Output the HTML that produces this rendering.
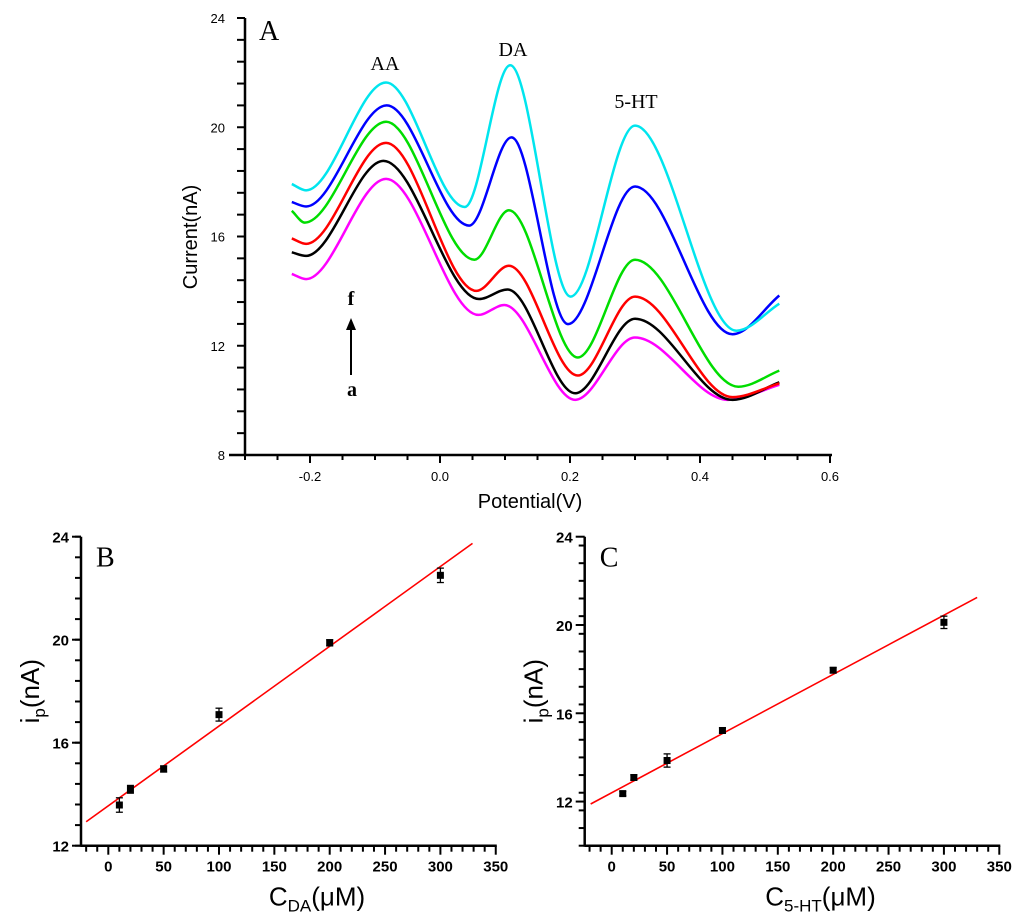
<!DOCTYPE html>
<html><head><meta charset="utf-8"><style>
body{margin:0;background:#fff}
svg{display:block;font-family:"Liberation Sans",sans-serif}
</style></head><body>
<svg id="fig" width="1024" height="922" viewBox="0 0 1024 922"></svg>
<script>
// ---------- Panel A data ----------
const seriesNames=['a','b','c','d','e','f'];
const seriesColors=['#ff00ff','#000000','#ff0000','#00dd00','#0000ff','#00e5ee'];
const seriesX=[
 [-0.228,-0.206,-0.083,0.059,0.099,0.208,0.300,0.443,0.522],
 [-0.228,-0.206,-0.087,0.060,0.104,0.208,0.300,0.450,0.522],
 [-0.228,-0.206,-0.083,0.056,0.106,0.212,0.300,0.450,0.522],
 [-0.228,-0.208,-0.083,0.053,0.106,0.212,0.300,0.459,0.522],
 [-0.228,-0.206,-0.082,0.045,0.110,0.197,0.300,0.450,0.522],
 [-0.228,-0.206,-0.083,0.038,0.108,0.201,0.300,0.456,0.522]
];
const seriesY=[
 [14.63,14.44,18.11,13.13,13.49,10.02,12.3,10.02,10.57],
 [15.42,15.29,18.77,13.71,14.06,10.26,12.99,10.02,10.66],
 [15.93,15.73,19.43,14.01,14.93,10.91,13.8,10.12,10.62],
 [16.94,16.51,20.2,15.15,16.96,11.57,15.15,10.5,11.09],
 [17.26,17.1,20.8,16.4,19.63,12.79,17.83,12.42,13.84],
 [17.92,17.69,21.64,17.08,22.27,13.8,20.06,12.55,13.54]
];
const aXTicks=[-0.2,0.0,0.2,0.4,0.6];
const aXLabels=['-0.2','0.0','0.2','0.4','0.6'];
const aYTicks=[8,12,16,20,24];
// ---------- Panel B data ----------
const bConc=[10,20,50,100,200,300];
const bCurrent=[13.58,14.19,14.98,17.09,19.88,22.5];
const bErr=[0.28,0.15,0.12,0.25,0.12,0.28];
const bFit=[[-20,12.93],[329,23.74]];
// ---------- Panel C data ----------
const cConc=[10,20,50,100,200,300];
const cCurrent=[12.36,13.09,13.86,15.22,17.95,20.12];
const cErr=[0.1,0.12,0.3,0.12,0.12,0.28];
const cFit=[[-19,11.89],[330,21.25]];
const bcXTicks=[0,50,100,150,200,250,300,350];
const bcYTicks=[12,16,20,24];

const svg=document.getElementById('fig');
const NS='http://www.w3.org/2000/svg';
function mk(tag,attrs,parent){const e=document.createElementNS(NS,tag);for(const k in attrs)e.setAttribute(k,attrs[k]);(parent||svg).appendChild(e);return e;}
function txt(s,attrs,parent){const e=mk('text',attrs,parent);e.textContent=s;return e;}

// ===== Panel A =====
const gA=mk('g',{});


const ax=v=>440+v*650, ay=v=>18+(24-v)*27.3125;
mk('line',{x1:229,y1:455,x2:832,y2:455,stroke:'#000','stroke-width':2.5},gA);
mk('line',{x1:245,y1:18,x2:245,y2:456,stroke:'#000','stroke-width':2.5},gA);
for(let k=-6;k<=12;k++){const v=k*0.05;const x=ax(v);const maj=(k%4===0);mk('line',{x1:x,y1:455,x2:x,y2:maj?463:460,stroke:'#000','stroke-width':2},gA);}
aXTicks.forEach((v,i)=>{const t=txt(aXLabels[i],{x:ax(v),y:481,'text-anchor':'middle','font-size':13},gA);});
for(let v=8;v<=24.01;v+=0.8){mk('line',{x1:237,y1:ay(v),x2:245,y2:ay(v),stroke:'#000','stroke-width':2},gA);}
aYTicks.forEach(v=>{const t=txt(String(v),{x:225,y:ay(v)+5,'text-anchor':'end','font-size':13},gA);});
const yt=txt('Current(nA)',{x:0,y:0,'font-size':20,'text-anchor':'middle',transform:'translate(197,237) rotate(-90)'},gA);

const xt=txt('Potential(V)',{x:530,y:508,'font-size':20,'text-anchor':'middle'},gA);

function monotone(pts){
 const n=pts.length,d=[],m=[];
 for(let i=0;i<n-1;i++)d.push((pts[i+1][1]-pts[i][1])/(pts[i+1][0]-pts[i][0]));
 for(let i=0;i<n;i++){
  if(i===0)m.push(d[0]);else if(i===n-1)m.push(d[n-2]);
  else if(d[i-1]*d[i]<=0)m.push(0);
  else m.push(2/(1/d[i-1]+1/d[i]));
 }
 let s='M'+pts[0][0]+','+pts[0][1];
 for(let i=0;i<n-1;i++){const h=(pts[i+1][0]-pts[i][0])/3;
  s+=' C'+(pts[i][0]+h)+','+(pts[i][1]+m[i]*h)+' '+(pts[i+1][0]-h)+','+(pts[i+1][1]-m[i+1]*h)+' '+pts[i+1][0]+','+pts[i+1][1];}
 return s;
}
seriesNames.forEach((n,i)=>{const pts=seriesX[i].map((x,j)=>[ax(x),ay(seriesY[i][j])]);const p=mk('path',{d:monotone(pts),fill:'none',stroke:seriesColors[i],'stroke-width':2.5},gA);});
const serif='"Liberation Serif",serif';
[['A',259,40,28,'panel-a-label'],['AA',385,70,20,'peak-label-aa'],['DA',513,56,20,'peak-label-da'],['5-HT',636,108,20,'peak-label-5ht']].forEach(a=>{const t=txt(a[0],{x:a[1],y:a[2],'font-size':a[3],'font-family':serif,'text-anchor':a[0]==='A'?'start':'middle'},gA);});
const tf=txt('f',{x:351,y:305,'font-size':20,'font-weight':'bold','font-family':serif,'text-anchor':'middle'},gA);
const ta=txt('a',{x:352,y:396,'font-size':20,'font-weight':'bold','font-family':serif,'text-anchor':'middle'},gA);
const arr=mk('g',{},gA);
mk('line',{x1:351,y1:375,x2:351,y2:324,stroke:'#000','stroke-width':2},arr);
mk('path',{d:'M346,330 L351,318 L356,330 Z',fill:'#000'},arr);

// ===== Panels B & C =====
function panel(name,label,left,x0px,xscale,top,bottom,ymin,conc,cur,err,fit,sub){
 const g=mk('g',{});
 
 
 const ys=(bottom-top)/(24-ymin);
 const X=v=>x0px+v*xscale, Y=v=>bottom-(v-ymin)*ys;
 mk('line',{x1:left,y1:bottom,x2:X(350)+1,y2:bottom,stroke:'#000','stroke-width':2.5},g);
 mk('line',{x1:left,y1:top,x2:left,y2:bottom+1,stroke:'#000','stroke-width':2.5},g);
 for(let v=-20;v<=350;v+=10){mk('line',{x1:X(v),y1:bottom,x2:X(v),y2:bottom+(v%50===0?9:6),stroke:'#000','stroke-width':2},g);}
 bcXTicks.forEach(v=>{const t=txt(String(v),{x:X(v),y:bottom+26,'text-anchor':'middle','font-size':15,'font-weight':'bold'},g);});
 for(let v=ymin;v<=24.01;v+=0.8){mk('line',{x1:left-6,y1:Y(v),x2:left,y2:Y(v),stroke:'#000','stroke-width':2},g);}
 bcYTicks.forEach(v=>{mk('line',{x1:left-9,y1:Y(v),x2:left,y2:Y(v),stroke:'#000','stroke-width':2},g);const t=txt(String(v),{x:left-12,y:Y(v)+6,'text-anchor':'end','font-size':15,'font-weight':'bold'},g);});
 const pl=txt(label,{x:left+15,y:top+30,'font-size':28,'font-family':serif},g);
 const yt=mk('text',{transform:'translate('+(left-42)+','+((top+bottom)/2)+') rotate(-90)','text-anchor':'middle','font-size':26},g);
 
 yt.innerHTML='i<tspan font-size="17" dy="6">p</tspan><tspan dy="-6">(nA)</tspan>';
 const xt=mk('text',{x:(X(0)+X(350))/2+15,y:bottom+60,'text-anchor':'middle','font-size':26},g);
 
 xt.innerHTML='C<tspan font-size="17" dy="6">'+sub+'</tspan><tspan dy="-6">(μM)</tspan>';
 const fl=mk('line',{x1:X(fit[0][0]),y1:Y(fit[0][1]),x2:X(fit[1][0]),y2:Y(fit[1][1]),stroke:'#ff0000','stroke-width':1.6},g);
 
 conc.forEach((c,i)=>{const pg=mk('g',{},g);
  const x=X(c),y=Y(cur[i]),e1=Y(cur[i]+err[i]),e2=Y(cur[i]-err[i]);
  mk('line',{x1:x,y1:e1,x2:x,y2:e2,stroke:'#000','stroke-width':1.3},pg);
  mk('line',{x1:x-3.5,y1:e1,x2:x+3.5,y2:e1,stroke:'#000','stroke-width':1.3},pg);
  mk('line',{x1:x-3.5,y1:e2,x2:x+3.5,y2:e2,stroke:'#000','stroke-width':1.3},pg);
  mk('rect',{x:x-3.5,y:y-3.5,width:7,height:7,fill:'#000'},pg);});
}
panel('panel-b','B',81,108.3,1.107,536.7,845.7,12,bConc,bCurrent,bErr,bFit,'DA');
panel('panel-c','C',584.7,611.7,1.1074,536.7,845.7,10,cConc,cCurrent,cErr,cFit,'5-HT');
</script>
</body></html>
